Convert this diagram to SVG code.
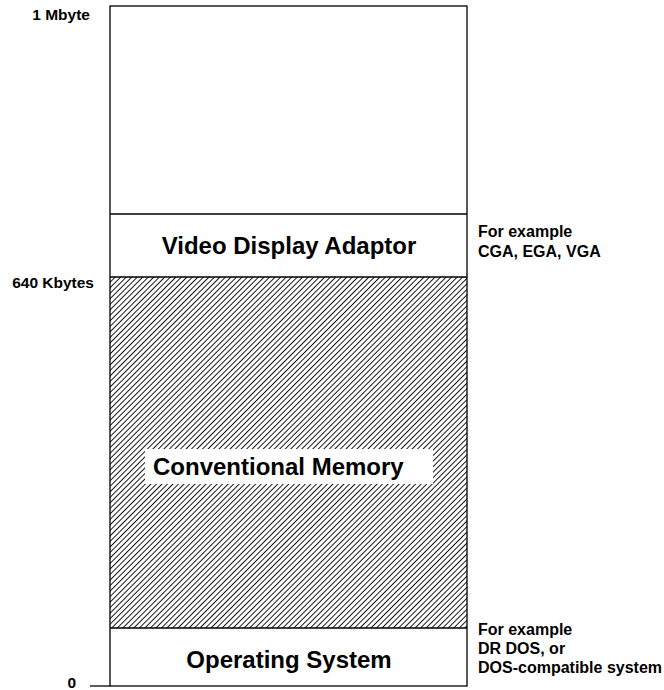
<svg xmlns="http://www.w3.org/2000/svg" width="664" height="690" viewBox="0 0 664 690">
<style>
text { font-family: "Liberation Sans", Arial, sans-serif; font-weight: bold; fill: #000; }
.big { font-size: 24px; }
.lbl { font-size: 15.5px; }
.note { font-size: 16px; }
.ln { stroke: #000; stroke-width: 1.3; fill: none; }
</style>
<defs>
<pattern id="hatch" patternUnits="userSpaceOnUse" width="3.9" height="3.9" patternTransform="rotate(45)">
<line x1="0" y1="0" x2="0" y2="3.9" stroke="#000" stroke-width="1.8"/>
</pattern>
</defs>
<rect width="664" height="690" fill="#fff"/>
<g id="conventional">
<rect x="110" y="277" width="357" height="351" fill="url(#hatch)"/>
<rect x="145" y="449" width="288" height="35" fill="#fff"/>
<text class="big" x="153" y="475">Conventional Memory</text>
</g>
<g id="frame">
<rect class="ln" x="110" y="6" width="357" height="680"/>
<line class="ln" x1="110" y1="214" x2="467" y2="214"/>
<line class="ln" x1="110" y1="277" x2="467" y2="277"/>
<line class="ln" x1="110" y1="628" x2="467" y2="628"/>
<line class="ln" x1="90" y1="686" x2="110" y2="686"/>
</g>
<g id="video">
<text class="big" x="289" y="254" text-anchor="middle">Video Display Adaptor</text>
</g>
<g id="os">
<text class="big" x="289" y="668" text-anchor="middle">Operating System</text>
</g>
<g id="labels">
<text class="lbl" x="90" y="20" text-anchor="end">1 Mbyte</text>
<text class="lbl" x="94" y="288" text-anchor="end">640 Kbytes</text>
<text class="lbl" x="76" y="688" text-anchor="end">0</text>
</g>
<g id="notes">
<text class="note" x="478" y="237">For example</text>
<text class="note" x="478" y="257">CGA, EGA, VGA</text>
<text class="note" x="478" y="635">For example</text>
<text class="note" x="478" y="654">DR DOS, or</text>
<text class="note" x="478" y="673">DOS-compatible system</text>
</g>
</svg>
